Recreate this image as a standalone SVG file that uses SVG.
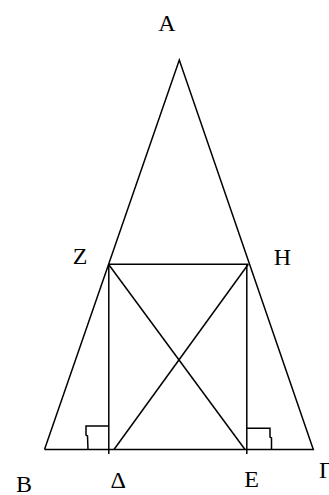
<svg xmlns="http://www.w3.org/2000/svg" width="329" height="495" viewBox="0 0 329 495">
<style>
.l{stroke:#000;stroke-width:1.5;fill:none;stroke-linecap:butt}
.t{font-family:"Liberation Serif","Times New Roman",serif;font-size:24px;fill:#000;text-anchor:middle}
</style>
<rect width="329" height="495" fill="#fff"/>
<g id="connectors">
<polyline class="l" points="44.5,449.5 179.3,60 313.3,449.5 44.5,449.5"/>
<line class="l" x1="108.5" y1="264.3" x2="248.3" y2="264.3"/>
<line class="l" x1="108.8" y1="264.3" x2="108.8" y2="454"/>
<line class="l" x1="246.8" y1="264.3" x2="246.8" y2="454"/>
<line class="l" x1="108.5" y1="264.3" x2="245" y2="449.5"/>
<line class="l" x1="248.3" y1="264.3" x2="114" y2="449.5"/>
<polyline class="l" points="88,449.5 87.5,436 86,435 86,426 108.8,426"/>
<polyline class="l" points="246.8,428.3 270,428.3 270,437 271.5,438 271.5,449.5"/>
</g>
<g id="A"><text class="t" x="167" y="31">A</text></g>
<g id="Z"><text class="t" x="80" y="264">Z</text></g>
<g id="H"><text class="t" x="282.5" y="265">H</text></g>
<g id="B"><text class="t" x="24" y="491.5">B</text></g>
<g id="D"><text class="t" x="118.3" y="487.5">Δ</text></g>
<g id="E"><text class="t" x="251.5" y="487">E</text></g>
<g id="G"><text class="t" x="319" y="478" style="text-anchor:start">Γ</text></g>
</svg>
